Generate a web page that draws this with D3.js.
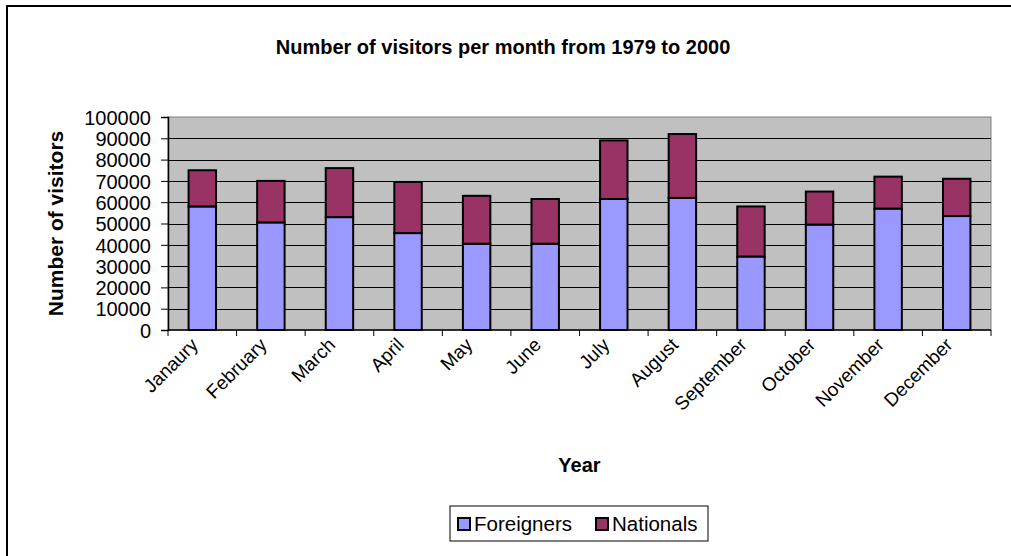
<!DOCTYPE html>
<html>
<head>
<meta charset="utf-8">
<script src="https://cdn.jsdelivr.net/npm/d3@7"></script>
<style>
  body { margin: 0; background: #fff; }
  svg text { font-family: "Liberation Sans", Arial, sans-serif; fill: #000; }
</style>
</head>
<body>
<div class="chart"></div>
<script>
// data
var months = ["Janaury", "February", "March", "April", "May", "June",
              "July", "August", "September", "October", "November", "December"];
var foreigners = [58000, 50500, 53000, 45500, 40500, 40500, 61500, 62000, 34500, 49500, 57000, 53500];
var nationals  = [17000, 19500, 23000, 24000, 22500, 21000, 27500, 30000, 23500, 15500, 15000, 17500];
var yTicks = [0, 10000, 20000, 30000, 40000, 50000, 60000, 70000, 80000, 90000, 100000];
var seriesNames = ["Foreigners", "Nationals"];
var seriesColors = ["#9999FF", "#993366"];

var width = 1011, height = 556;
var plot = {left: 168, right: 991, top: 117, bottom: 330};

var svg = d3.select(".chart")
	.append("svg")
	.attr("width", width)
	.attr("height", height);

// outer chart frame (right and bottom edges fall outside the picture)
svg.append("rect")
	.attr("x", 7)
	.attr("y", 6)
	.attr("width", width + 20)
	.attr("height", height + 20)
	.style("fill", "none")
	.style("stroke", "#000")
	.style("stroke-width", 2);

var x = d3.scaleBand()
	.domain(months)
	.range([plot.left, plot.right])
	.paddingInner(0.6)
	.paddingOuter(0.3);

var y = d3.scaleLinear()
	.domain([0, 100000])
	.range([plot.bottom, plot.top]);

// plot area
svg.append("rect")
	.attr("x", plot.left)
	.attr("y", plot.top)
	.attr("width", plot.right - plot.left)
	.attr("height", plot.bottom - plot.top)
	.style("fill", "#C0C0C0")
	.style("stroke", "#808080")
	.style("stroke-width", 1);

// gridlines
svg.selectAll(".grid")
	.data(yTicks.filter(function(d) { return d > 0 && d < 100000; }))
	.enter().append("line")
	.attr("class", "grid")
	.attr("x1", plot.left)
	.attr("x2", plot.right)
	.attr("y1", function(d) { return Math.round(y(d)) + 0.5; })
	.attr("y2", function(d) { return Math.round(y(d)) + 0.5; })
	.style("stroke", "#000")
	.style("stroke-width", 1);

// stacked bars
var stackData = months.map(function(m, i) {
	return {month: m, Foreigners: foreigners[i], Nationals: nationals[i]};
});
var stacked = d3.stack().keys(seriesNames)(stackData);

svg.selectAll(".series")
	.data(stacked)
	.enter().append("g")
	.attr("class", "series")
	.style("fill", function(d, i) { return seriesColors[i]; })
	.selectAll("rect")
	.data(function(d) { return d; })
	.enter().append("rect")
	.attr("x", function(d) { return x(d.data.month); })
	.attr("y", function(d) { return y(d[1]); })
	.attr("width", x.bandwidth())
	.attr("height", function(d) { return y(d[0]) - y(d[1]); })
	.style("stroke", "#000")
	.style("stroke-width", 2);

// y axis
var yAxis = svg.append("g")
	.attr("transform", "translate(" + plot.left + ",0)")
	.call(d3.axisLeft(y).tickValues(yTicks).tickFormat(d3.format("d")).tickSize(7).tickPadding(10));
yAxis.selectAll("text").style("font-size", "20px").attr("dy", "0.36em");
yAxis.selectAll(".tick line").style("stroke", "#000");
yAxis.select(".domain").style("stroke", "#000").style("stroke-width", 1.5);

// x axis: ticks at band boundaries
var xAxis = svg.append("g")
	.attr("transform", "translate(0," + plot.bottom + ")");
xAxis.append("line")
	.attr("x1", plot.left)
	.attr("x2", plot.right)
	.style("stroke", "#000")
	.style("stroke-width", 1.5);
xAxis.selectAll(".xtick")
	.data(d3.range(months.length + 1))
	.enter().append("line")
	.attr("class", "xtick")
	.attr("x1", function(i) { return plot.left + i * (plot.right - plot.left) / months.length; })
	.attr("x2", function(i) { return plot.left + i * (plot.right - plot.left) / months.length; })
	.attr("y1", 0)
	.attr("y2", 6)
	.style("stroke", "#000");

xAxis.selectAll(".xlabel")
	.data(months)
	.enter().append("text")
	.attr("class", "xlabel")
	.attr("transform", function(d) {
		return "translate(" + (x(d) + x.bandwidth() / 2 - 3) + ",16) rotate(-45)";
	})
	.style("text-anchor", "end")
	.style("font-size", "19px")
	.text(function(d) { return d; });

// titles
svg.append("text")
	.attr("x", 503)
	.attr("y", 54)
	.style("text-anchor", "middle")
	.style("font-size", "20px")
	.style("font-weight", "bold")
	.text("Number of visitors per month from 1979 to 2000");

svg.append("text")
	.attr("transform", "translate(63," + ((plot.top + plot.bottom) / 2) + ") rotate(-90)")
	.style("text-anchor", "middle")
	.style("font-size", "21px")
	.style("font-weight", "bold")
	.text("Number of visitors");

svg.append("text")
	.attr("x", (plot.left + plot.right) / 2)
	.attr("y", 472)
	.style("text-anchor", "middle")
	.style("font-size", "20px")
	.style("font-weight", "bold")
	.text("Year");

// legend
var legendBox = {x: 450, y: 506, w: 258, h: 35};
svg.append("rect")
	.attr("x", legendBox.x)
	.attr("y", legendBox.y)
	.attr("width", legendBox.w)
	.attr("height", legendBox.h)
	.style("fill", "#fff")
	.style("stroke", "#000")
	.style("stroke-width", 1);

var legendOffsets = [8, 146];
var legend = svg.selectAll(".legend")
	.data(seriesNames)
	.enter().append("g")
	.attr("class", "legend")
	.attr("transform", function(d, i) {
		return "translate(" + (legendBox.x + legendOffsets[i]) + "," + legendBox.y + ")";
	});

legend.append("rect")
	.attr("x", 0)
	.attr("y", 12)
	.attr("width", 12)
	.attr("height", 12)
	.style("fill", function(d, i) { return seriesColors[i]; })
	.style("stroke", "#000")
	.style("stroke-width", 2);

legend.append("text")
	.attr("x", 16)
	.attr("y", 25)
	.style("font-size", "20.5px")
	.text(function(d) { return d; });
</script>
</body>
</html>
